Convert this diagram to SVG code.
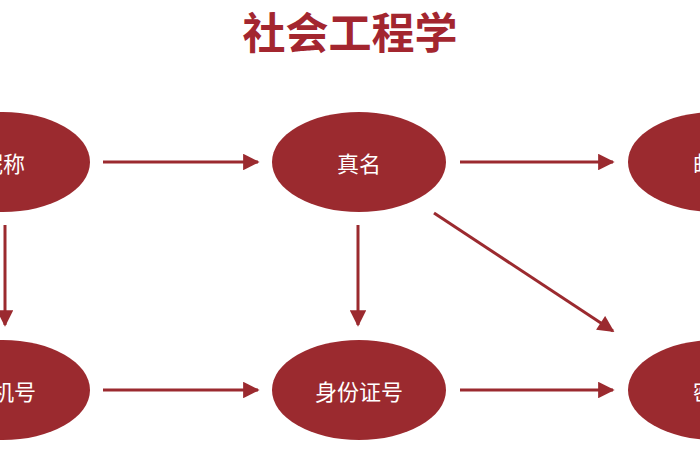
<svg xmlns="http://www.w3.org/2000/svg" width="700" height="470" viewBox="0 0 700 470">
<style>
.n ellipse{fill:#9b2a2f}
.n text{fill:#fff;font-family:"Noto Sans CJK SC",sans-serif;font-size:22px;text-anchor:middle;dominant-baseline:central}
.c line{stroke:#9b2a2f;stroke-width:3;marker-end:url(#a)}
</style>
<defs><marker id="a" viewBox="0 0 10 10" refX="9" refY="5" markerWidth="6" markerHeight="5.5" orient="auto" markerUnits="strokeWidth"><path d="M0,0L10,5L0,10z" fill="#9b2a2f"/></marker></defs>
<rect width="700" height="470" fill="#fff"/>
<text x="350" y="30" font-family="Noto Sans CJK SC,sans-serif" font-size="43" font-weight="bold" fill="#a3262f" text-anchor="middle" dominant-baseline="central">社会工程学</text>
<g id="nicheng" class="n"><ellipse cx="3" cy="162" rx="87" ry="50"/><text x="3" y="162">昵称</text></g>
<g id="zhenming" class="n"><ellipse cx="359" cy="162" rx="87" ry="50"/><text x="359" y="162">真名</text></g>
<g id="youxiang" class="n"><ellipse cx="715" cy="162" rx="87" ry="50"/><text x="715" y="162">邮箱</text></g>
<g id="shouji" class="n"><ellipse cx="3" cy="390" rx="87" ry="50"/><text x="3" y="390">手机号</text></g>
<g id="shenfen" class="n"><ellipse cx="359" cy="390" rx="87" ry="50"/><text x="359" y="390">身份证号</text></g>
<g id="mima" class="n"><ellipse cx="715" cy="390" rx="87" ry="50"/><text x="715" y="390">密码</text></g>
<g id="connectors" class="c">
<line x1="103" y1="162" x2="258" y2="162"/>
<line x1="460" y1="162" x2="613" y2="162"/>
<line x1="103" y1="390" x2="258" y2="390"/>
<line x1="460" y1="390" x2="613" y2="390"/>
<line x1="5" y1="225" x2="5" y2="325"/>
<line x1="358" y1="225" x2="358" y2="325"/>
<line x1="434" y1="213" x2="613" y2="331"/>
</g>
</svg>
